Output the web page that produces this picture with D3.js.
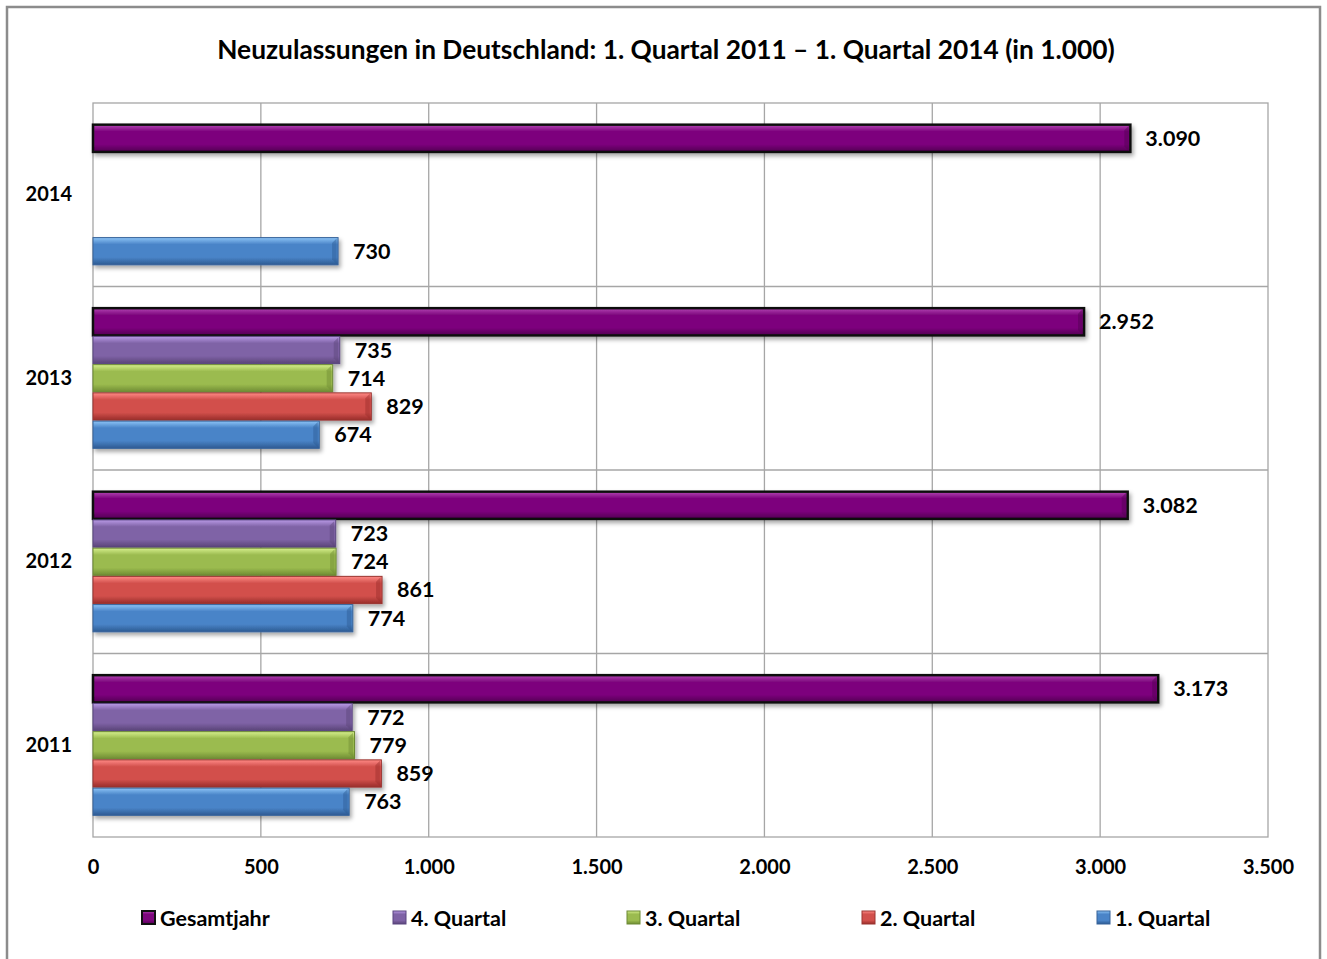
<!DOCTYPE html>
<html>
<head>
<meta charset="utf-8">
<script src="https://cdn.jsdelivr.net/npm/d3@7"></script>
<style>
	body { margin: 0; background: #fff; }
	svg text { font-family: Lato, "Open Sans", sans-serif; font-weight: bold; fill: #000; }
</style>
</head>
<body>
<svg id="chart"></svg>
<script>
// data
let years = ['2014', '2013', '2012', '2011'];
let seriesNames = ['Gesamtjahr', '4. Quartal', '3. Quartal', '2. Quartal', '1. Quartal'];
let gesamtjahr = [3090, 2952, 3082, 3173];
let quartal4 = [null, 735, 723, 772];
let quartal3 = [null, 714, 724, 779];
let quartal2 = [null, 829, 861, 859];
let quartal1 = [730, 674, 774, 763];
let xTicks = [0, 500, 1000, 1500, 2000, 2500, 3000, 3500];
let title = 'Neuzulassungen in Deutschland: 1. Quartal 2011 \u2013 1. Quartal 2014 (in 1.000)';

// light, base, dark, border
let colors = {
	'Gesamtjahr': ['#b445b4', '#7d067d', '#520052', '#111'],
	'4. Quartal': ['#b99ae6', '#7f63a6', '#5a4478', '#5b4680'],
	'3. Quartal': ['#d6ef8c', '#9bbb4f', '#6f8c33', '#6d8a35'],
	'2. Quartal': ['#ff8a86', '#d2504c', '#992d2a', '#9a3431'],
	'1. Quartal': ['#8cc4f6', '#4a84c8', '#2d5a92', '#36639a']
};

let allSeries = [gesamtjahr, quartal4, quartal3, quartal2, quartal1];
let rows = [];
years.forEach((y, i) => {
	seriesNames.forEach((s, k) => {
		let v = allSeries[k][i];
		if (v != null) rows.push({ year: y, series: s, value: v });
	});
});

let width = 1327, height = 959;
let plotLeft = 93, plotRight = 1268, plotTop = 103, plotBottom = 837;
let fmt = d3.formatLocale({ decimal: ',', thousands: '.', grouping: [3] }).format(',d');

let svg = d3.select('#chart').attr('width', width).attr('height', height);

let defs = svg.append('defs');
let shadow = defs.append('filter').attr('id', 'shadow')
	.attr('x', '-5%').attr('y', '-30%').attr('width', '115%').attr('height', '180%');
shadow.append('feDropShadow').attr('dx', 2).attr('dy', 3).attr('stdDeviation', 2)
	.attr('flood-color', '#000').attr('flood-opacity', 0.35);

seriesNames.forEach((s, k) => {
	let g = defs.append('linearGradient').attr('id', 'grad' + k)
		.attr('x1', 0).attr('y1', 0).attr('x2', 0).attr('y2', 1);
	let c = colors[s];
	g.append('stop').attr('offset', '0%').attr('stop-color', c[0]);
	g.append('stop').attr('offset', '25%').attr('stop-color', c[1]);
	g.append('stop').attr('offset', '72%').attr('stop-color', c[1]);
	g.append('stop').attr('offset', '100%').attr('stop-color', c[2]);
});

// frame
svg.append('rect')
	.attr('x', 7).attr('y', 7).attr('width', 1313).attr('height', 960)
	.attr('fill', '#fff').attr('stroke', '#8c8c8c').attr('stroke-width', 2.5);

// title
svg.append('text')
	.attr('x', 666).attr('y', 59)
	.attr('text-anchor', 'middle')
	.style('font-size', '26.3px')
	.text(title);

let xScale = d3.scaleLinear().domain([0, 3500]).range([plotLeft, plotRight]);
let yScale = d3.scaleBand().domain(years).range([plotTop, plotBottom]);
let innerScale = d3.scaleBand().domain(seriesNames)
	.range([0, yScale.bandwidth()]).paddingInner(0).paddingOuter(0.75);

// grid
svg.append('g').selectAll('line').data(xTicks.slice(1, -1)).join('line')
	.attr('x1', d => xScale(d)).attr('x2', d => xScale(d))
	.attr('y1', plotTop).attr('y2', plotBottom)
	.attr('stroke', '#a6a6a6').attr('stroke-width', 1.3);

svg.append('g').selectAll('line').data(years.slice(1)).join('line')
	.attr('x1', plotLeft).attr('x2', plotRight)
	.attr('y1', d => yScale(d)).attr('y2', d => yScale(d))
	.attr('stroke', '#a6a6a6').attr('stroke-width', 1.3);

svg.append('rect')
	.attr('x', plotLeft).attr('y', plotTop)
	.attr('width', plotRight - plotLeft).attr('height', plotBottom - plotTop)
	.attr('fill', 'none').attr('stroke', '#a6a6a6').attr('stroke-width', 1.3);

// axes
let xAxis = d3.axisBottom(xScale).tickValues(xTicks).tickFormat(fmt).tickSize(0).tickPadding(23);
let xAxisGroup = svg.append('g').attr('transform', `translate(0, ${plotBottom})`).call(xAxis);
xAxisGroup.attr('font-family', null).attr('font-size', null);
xAxisGroup.select('.domain').remove();
xAxisGroup.selectAll('text').style('font-size', '20px');

let yAxis = d3.axisLeft(yScale).tickSize(0).tickPadding(21);
let yAxisGroup = svg.append('g').attr('transform', `translate(${plotLeft}, 0)`).call(yAxis);
yAxisGroup.attr('font-family', null).attr('font-size', null);
yAxisGroup.select('.domain').remove();
yAxisGroup.selectAll('text').style('font-size', '20px');

// bars
let barH = innerScale.bandwidth();
let bars = svg.append('g').selectAll('g').data(rows).join('g')
	.attr('transform', d => `translate(0, ${yScale(d.year) + innerScale(d.series)})`);

bars.append('rect')
	.attr('x', xScale(0))
	.attr('y', 0.5)
	.attr('width', d => xScale(d.value) - xScale(0))
	.attr('height', barH - 1)
	.attr('fill', d => `url(#grad${seriesNames.indexOf(d.series)})`)
	.attr('stroke', d => colors[d.series][3])
	.attr('stroke-width', d => d.series == 'Gesamtjahr' ? 2.5 : 1)
	.attr('filter', 'url(#shadow)');

// bevel at the right end
bars.append('path')
	.attr('d', d => {
		let x1 = xScale(d.value);
		let b = 6;
		return `M${x1 - b},${b} L${x1 - 1.5},1.5 L${x1 - 1.5},${barH - 1.5} L${x1 - b},${barH - b} Z`;
	})
	.attr('fill', d => colors[d.series][2])
	.attr('opacity', 0.45);

bars.append('text')
	.attr('x', d => xScale(d.value) + 15)
	.attr('y', barH / 2)
	.attr('dy', '0.35em')
	.style('font-size', '21.5px')
	.text(d => fmt(d.value));

// legend
let legendX = [142, 393, 627, 862, 1097];
let legend = svg.append('g').selectAll('g').data(seriesNames).join('g')
	.attr('transform', (d, i) => `translate(${legendX[i]}, 918)`);

legend.append('rect')
	.attr('x', 0).attr('y', -7).attr('width', 13).attr('height', 13)
	.attr('fill', (d, i) => `url(#grad${i})`)
	.attr('stroke', d => colors[d][3])
	.attr('stroke-width', d => d == 'Gesamtjahr' ? 2 : 1);

legend.append('text')
	.attr('x', 18).attr('y', 0).attr('dy', '0.35em')
	.style('font-size', '21.5px')
	.text(d => d);
</script>
</body>
</html>
